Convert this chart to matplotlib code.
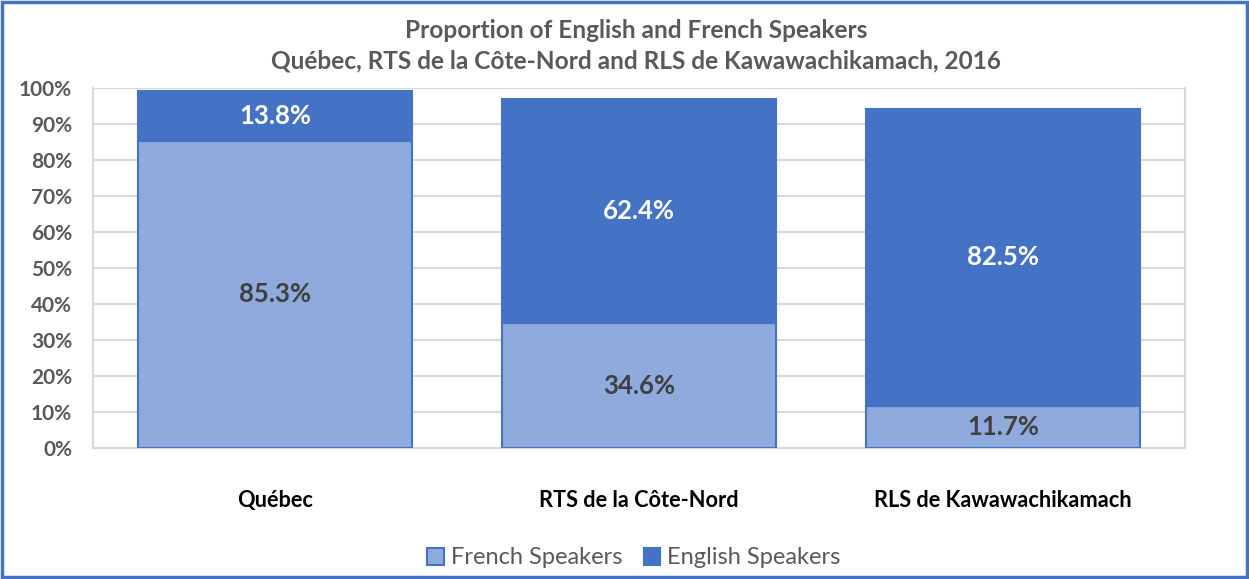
import matplotlib
matplotlib.use("Agg")
import matplotlib.pyplot as plt
from matplotlib.patches import Rectangle
import numpy as np

categories = ["Québec", "RTS de la Côte-Nord", "RLS de Kawawachikamach"]
french = [85.3, 34.6, 11.7]
english = [13.8, 62.4, 82.5]
yticks = [0, 10, 20, 30, 40, 50, 60, 70, 80, 90, 100]

plt.rcParams['font.family'] = ['Lato', 'DejaVu Sans']

fig = plt.figure(figsize=(12.49, 5.79), dpi=100)
ax = fig.add_axes([93/1249, 1-448/579, (1185-93)/1249, (448-88)/579])

x = np.arange(len(categories))
w = 0.755
c_fr = "#8FAADC"
c_en = "#4472C4"
ax.bar(x, french, w, color=c_fr, edgecolor=c_en, linewidth=1.5, label="French Speakers", zorder=3)
ax.bar(x, english, w, bottom=french, color=c_en, edgecolor=c_en, linewidth=1.5, label="English Speakers", zorder=3)

for i in range(len(categories)):
    ax.text(x[i], french[i]/2, f"{french[i]:.1f}%", ha="center", va="center",
            fontsize=18.5, fontweight="bold", color="#404040", zorder=4)
    ax.text(x[i], french[i] + english[i]/2, f"{english[i]:.1f}%", ha="center", va="center",
            fontsize=18.5, fontweight="bold", color="white", zorder=4)

ax.set_xlim(-0.5, len(categories)-0.5)
ax.set_ylim(0, 100)
ax.set_yticks(yticks)
ax.set_yticklabels([f"{v}%" for v in yticks], fontsize=15, fontweight="bold", color="#595959")
ax.set_xticks(x)
ax.set_xticklabels(categories, fontsize=15.7, fontweight="bold", color="black")
ax.tick_params(axis="x", length=0, pad=30)
ax.tick_params(axis="y", length=0, pad=15)
ax.grid(axis="y", color="#D9D9D9", linewidth=1.5, zorder=0)
for s in ax.spines.values():
    s.set_color("#D9D9D9")
    s.set_linewidth(1.5)
ax.spines["top"].set_visible(False)

fig.text(636/1249, 1-30/579, "Proportion of English and French Speakers", ha="center", va="center",
         fontsize=17.6, fontweight="bold", color="#595959")
fig.text(636/1249, 1-61/579, "Québec, RTS de la Côte-Nord and RLS de Kawawachikamach, 2016", ha="center", va="center",
         fontsize=17.6, fontweight="bold", color="#595959")

leg = fig.legend(loc="center", bbox_to_anchor=(634/1249, 1-558/579), ncol=2, frameon=False,
                 fontsize=17, handlelength=0.7, handleheight=0.7, handletextpad=0.3, columnspacing=0.9)
for t in leg.get_texts():
    t.set_color("#595959")

fig.patches.append(Rectangle((0.002, 0.003), 0.996, 0.994, transform=fig.transFigure,
                             fill=False, edgecolor="#4472C4", linewidth=2.5))

fig.savefig("out.png", dpi=100, facecolor="white")
